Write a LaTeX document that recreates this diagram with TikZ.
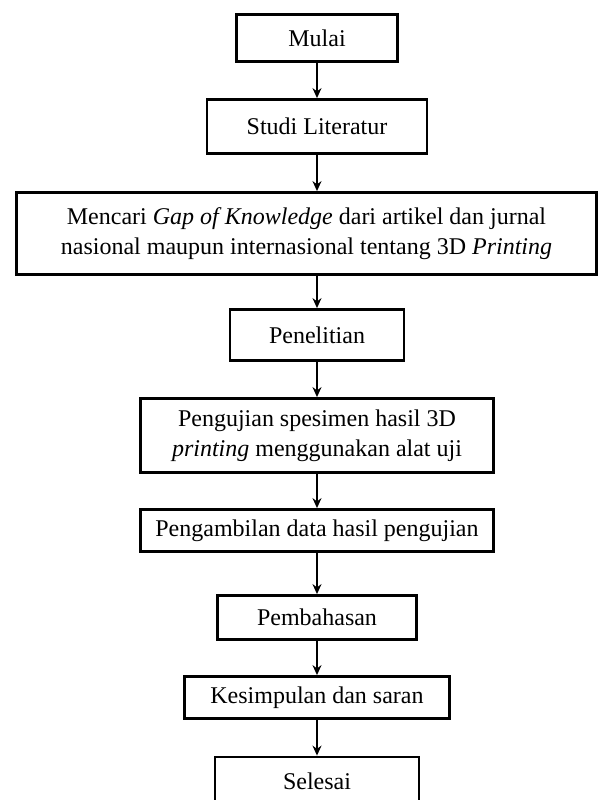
\documentclass[tikz,border=0pt]{standalone}
\usepackage{fontspec}
\setmainfont{Liberation Serif}
\usetikzlibrary{arrows.meta, positioning}
\tikzstyle{process} = [rectangle, draw=black, line width=2.8pt, inner sep=2pt, align=center, font=\fontsize{24}{30}\selectfont]
\tikzstyle{flow} = [line width=1.4pt, -{Stealth[length=10pt,width=9pt]}]

\begin{document}
\begin{tikzpicture}[node distance=90pt]
      \useasboundingbox (-317pt,38pt) rectangle (281pt,-762pt);
      \node (mulai) [process, minimum width=161pt, minimum height=47pt] {Mulai};
      \node (studi) [process, below of=mulai, yshift=1.5pt, minimum width=220pt, minimum height=54pt] {Studi Literatur};
      \node (gap) [process, below of=studi, yshift=-17pt, xshift=-10.5pt, minimum width=580pt, minimum height=82pt] {Mencari \textit{Gap of Knowledge} dari artikel dan jurnal\\nasional maupun internasional tentang 3D \textit{Printing}};
      \node (penelitian) [process, below of=gap, yshift=-11.5pt, xshift=10.5pt, minimum width=174pt, minimum height=51pt] {Penelitian};
      \node (uji) [process, below of=penelitian, yshift=-10.5pt, minimum width=353pt, minimum height=74pt] {Pengujian spesimen hasil 3D\\\textit{printing} menggunakan alat uji};
      \node (data) [process, below of=uji, yshift=-5pt, minimum width=353pt, minimum height=42pt] {Pengambilan data hasil pengujian};
      \node (bahas) [process, below of=data, yshift=3pt, minimum width=199pt, minimum height=44pt] {Pembahasan};
      \node (simpul) [process, below of=bahas, yshift=10pt, minimum width=265pt, minimum height=42pt] {Kesimpulan dan saran};
      \node (selesai) [process, below of=simpul, yshift=6.5pt, minimum width=204pt, minimum height=48pt] {Selesai};
      \draw [flow] (mulai) -- (studi);
      \draw [flow] (studi) -- (studi |- gap.north);
      \draw [flow] (gap.south -| penelitian) -- (penelitian);
      \draw [flow] (penelitian) -- (uji);
      \draw [flow] (uji) -- (data);
      \draw [flow] (data) -- (bahas);
      \draw [flow] (bahas) -- (simpul);
      \draw [flow] (simpul) -- (selesai);
\end{tikzpicture}
\end{document}
